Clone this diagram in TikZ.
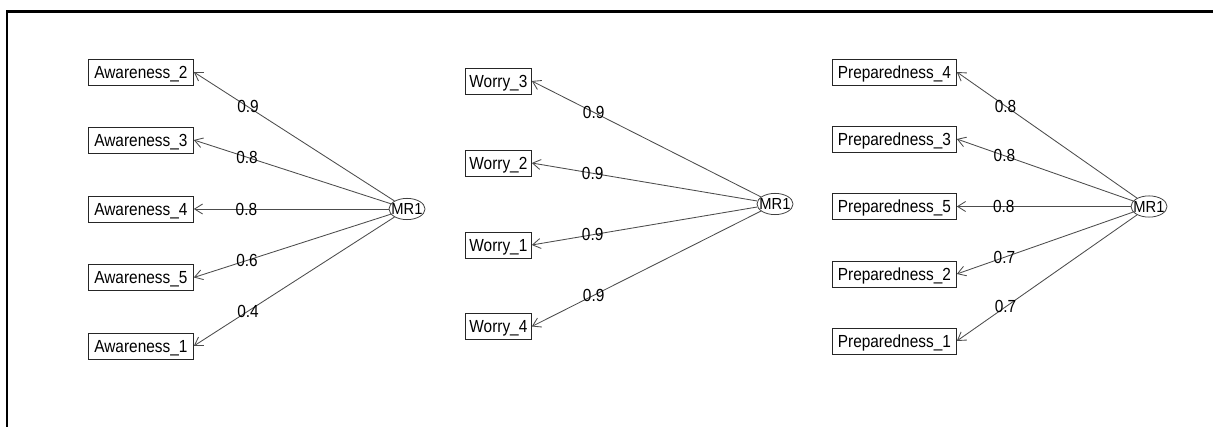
\documentclass[tikz,border=0pt]{standalone}
\usepackage{fontspec}
\setmainfont{Liberation Sans}
\newfontfamily\narrowfont[FakeStretch=0.88]{Liberation Sans}
\newfontfamily\factorfont[FakeStretch=0.92]{Liberation Sans}
\usetikzlibrary{arrows.meta,shapes.geometric}
\begin{document}
\begin{tikzpicture}[x=1pt,y=-1pt,
  every node/.style={font=\narrowfont\fontsize{17.5}{20}\selectfont},
  item/.style={draw=black!85, line width=0.8pt, anchor=west, minimum height=26pt, inner xsep=3pt, inner ysep=0pt, text height=12.5pt, text depth=0pt},
  factor/.style={draw=black!75, line width=0.8pt, ellipse, inner xsep=-2.8pt, inner ysep=2pt, font=\factorfont\fontsize{16}{18}\selectfont},
  load/.style={draw=black!70, line width=0.85pt, -{Straight Barb[length=8pt,width=10pt]}},
  lab/.style={pos=0.73, inner sep=0pt}
]
\useasboundingbox (0,0) rectangle (1213,427);
\draw[line width=2.5pt] (6.9,428) -- (6.9,11.4) -- (1214,11.4);

% Awareness
\node[item, minimum width=105pt] (a2) at (88,72) {Awareness\_2};
\node[item, minimum width=105pt] (a3) at (88,140) {Awareness\_3};
\node[item, minimum width=105pt] (a4) at (88,209) {Awareness\_4};
\node[item, minimum width=105pt] (a5) at (88,277.5) {Awareness\_5};
\node[item, minimum width=105pt] (a1) at (88,346) {Awareness\_1};
\node[factor] (m1) at (407,209) {MR1};
\draw[load] (m1) -- node[lab] {0.9} (a2.east);
\draw[load] (m1) -- node[lab] {0.8} (a3.east);
\draw[load] (m1) -- node[lab] {0.8} (a4.east);
\draw[load] (m1) -- node[lab] {0.6} (a5.east);
\draw[load] (m1) -- node[lab] {0.4} (a1.east);

% Worry
\node[item, minimum width=66pt] (w3) at (465,81) {Worry\_3};
\node[item, minimum width=66pt] (w2) at (465,163) {Worry\_2};
\node[item, minimum width=66pt] (w1) at (465,245) {Worry\_1};
\node[item, minimum width=66pt] (w4) at (465,326.5) {Worry\_4};
\node[factor] (m2) at (775,204) {MR1};
\draw[load] (m2) -- node[lab] {0.9} (w3.east);
\draw[load] (m2) -- node[lab] {0.9} (w2.east);
\draw[load] (m2) -- node[lab] {0.9} (w1.east);
\draw[load] (m2) -- node[lab] {0.9} (w4.east);

% Preparedness
\node[item, minimum width=124pt] (p4) at (832,72) {Preparedness\_4};
\node[item, minimum width=124pt] (p3) at (832,139) {Preparedness\_3};
\node[item, minimum width=124pt] (p5) at (832,206.5) {Preparedness\_5};
\node[item, minimum width=124pt] (p2) at (832,274) {Preparedness\_2};
\node[item, minimum width=124pt] (p1) at (832,341) {Preparedness\_1};
\node[factor] (m3) at (1149,206.5) {MR1};
\draw[load] (m3) -- node[lab] {0.8} (p4.east);
\draw[load] (m3) -- node[lab] {0.8} (p3.east);
\draw[load] (m3) -- node[lab] {0.8} (p5.east);
\draw[load] (m3) -- node[lab] {0.7} (p2.east);
\draw[load] (m3) -- node[lab] {0.7} (p1.east);
\end{tikzpicture}
\end{document}
